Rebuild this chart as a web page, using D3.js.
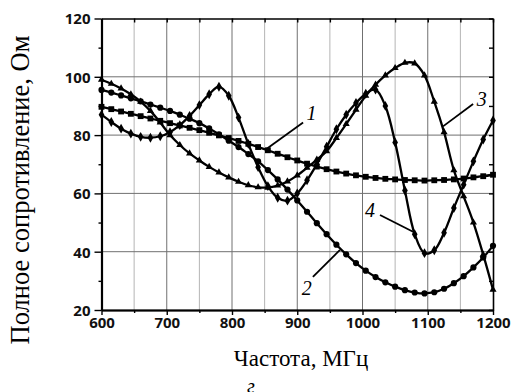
<!DOCTYPE html>
<html>
<head>
<meta charset="utf-8">
<script src="https://cdn.jsdelivr.net/npm/d3@7"></script>
<style>
  body { margin: 0; background: #fff; }
  svg { display: block; }
  .tick text { font-family: "Open Sans", sans-serif; font-weight: 700; font-size: 15px; fill: #111; }
</style>
</head>
<body>
<svg id="chart" width="516" height="392"></svg>
<script>
// Frequency samples, MHz
const freq = [600, 615, 630, 645, 660, 675, 690, 705, 720, 735, 750, 765, 780, 795, 810, 825, 840, 855, 870, 885,
              900, 915, 930, 945, 960, 975, 990, 1005, 1020, 1035, 1050, 1065, 1080, 1095, 1110, 1125, 1140, 1155, 1170, 1185, 1200];

// Impedance magnitude, Ohm
const curve1 = [89.7, 88.9, 88.1, 87.3, 86.5, 85.7, 84.9, 84.1, 83.3, 82.5, 81.7, 80.8, 79.9, 79.0, 78.0, 77.0, 75.9, 74.8, 73.6, 72.4,
                71.3, 70.2, 69.2, 68.3, 67.5, 66.8, 66.2, 65.7, 65.3, 65.0, 64.8, 64.6, 64.5, 64.4, 64.5, 64.6, 64.8, 65.1, 65.5, 65.9, 66.4];
const curve2 = [95.5, 94.6, 93.6, 92.6, 91.6, 90.5, 89.4, 88.3, 87.0, 85.6, 84.1, 82.3, 80.3, 78.1, 75.9, 73.5, 71.0, 68.0, 64.8, 61.3,
                57.6, 53.7, 49.8, 46.0, 42.4, 39.1, 36.1, 33.5, 31.3, 29.5, 28.0, 26.8, 26.0, 25.7, 26.1, 27.3, 29.2, 31.6, 34.6, 38.0, 42.0];
const curve3 = [99.0, 97.6, 96.0, 94.0, 91.5, 88.3, 84.3, 80.0, 76.6, 73.7, 71.3, 69.1, 67.2, 65.5, 64.0, 62.8, 62.1, 62.0, 62.7, 64.1,
                66.2, 68.8, 71.6, 74.5, 79.0, 83.8, 88.7, 93.5, 97.3, 100.5, 103.0, 104.8, 104.6, 100.5, 91.5, 81.0, 68.0, 59.0, 50.0, 39.0, 27.0];
const curve4 = [87.0, 84.5, 82.2, 80.5, 79.4, 79.1, 79.6, 81.0, 83.4, 86.6, 90.3, 94.0, 96.6, 93.5, 86.0, 77.0, 69.0, 62.5, 58.5, 57.5,
                60.0, 64.5, 70.0, 76.0, 82.0, 87.0, 91.0, 94.2, 95.6, 90.0, 77.5, 61.0, 46.0, 39.5, 40.5, 46.5, 55.0, 63.0, 71.0, 78.5, 85.0];

const xTicks = [600, 700, 800, 900, 1000, 1100, 1200];
const xMinor = [650, 750, 850, 950, 1050, 1150];
const yTicks = [20, 40, 60, 80, 100, 120];
const yMinor = [30, 50, 70, 90, 110];
const yAllTicks = [20, 30, 40, 50, 60, 70, 80, 90, 100, 110, 120];

const xTitle = "Частота, МГц";
const yTitle = "Полное сопротивление, Ом";
const panelTag = "г";

// Curve number callouts: label anchor and leader line, in data units
const callouts = [
  { text: "1", at: [922, 86.6], from: [909, 84.3], to: [850.6, 74.9] },
  { text: "2", at: [914.5, 26.6], from: [924, 31.4], to: [965.5, 40.6] },
  { text: "3", at: [1182.7, 91.6], from: [1169.5, 90.7], to: [1123.4, 83.0] },
  { text: "4", at: [1011.5, 53.6], from: [1026.8, 52.6], to: [1080.5, 46.5] }
];

const svg = d3.select("#chart");
const x = d3.scaleLinear().domain([600, 1200]).range([101.5, 493]);
const y = d3.scaleLinear().domain([20, 120]).range([310, 18.5]);

// Grid
const grid = svg.append("g");
grid.selectAll(".vmin").data(xMinor).join("line")
  .attr("x1", d => x(d)).attr("x2", d => x(d)).attr("y1", y(20)).attr("y2", y(120))
  .attr("stroke", "#b4b4b4").attr("stroke-width", 1);
grid.selectAll(".vmaj").data(xTicks.slice(1, -1)).join("line")
  .attr("x1", d => x(d)).attr("x2", d => x(d)).attr("y1", y(20)).attr("y2", y(120))
  .attr("stroke", "#707070").attr("stroke-width", 1);
grid.selectAll(".hmaj").data(yTicks.slice(1, -1)).join("line")
  .attr("x1", x(600)).attr("x2", x(1200)).attr("y1", d => y(d)).attr("y2", d => y(d))
  .attr("stroke", "#707070").attr("stroke-width", 1);

// Axes
const fmt = d3.format("d");
const bottom = svg.append("g").attr("transform", `translate(0,${y(20)})`)
  .call(d3.axisBottom(x).tickValues(xTicks).tickFormat(fmt).tickSize(5).tickPadding(2).tickSizeOuter(0));
svg.append("g").attr("transform", `translate(0,${y(20)})`)
  .call(d3.axisBottom(x).tickValues(xMinor).tickSize(3).tickFormat("").tickSizeOuter(0));
const left = svg.append("g").attr("transform", `translate(${x(600)},0)`)
  .call(d3.axisLeft(y).tickValues(yTicks).tickFormat(fmt).tickSize(7).tickPadding(4).tickSizeOuter(0));
svg.append("g").attr("transform", `translate(${x(600)},0)`)
  .call(d3.axisLeft(y).tickValues(yMinor).tickSize(3).tickFormat("").tickSizeOuter(0));
// Right and top frame with inward ticks
svg.append("g").attr("transform", `translate(${x(1200)},0)`)
  .call(d3.axisLeft(y).tickValues(yAllTicks).tickSize(4).tickFormat("").tickSizeOuter(0));
svg.append("g").attr("transform", `translate(0,${y(120)})`)
  .call(d3.axisBottom(x).tickValues(xTicks.concat(xMinor)).tickSize(4).tickFormat("").tickSizeOuter(0));

svg.selectAll(".domain").attr("stroke", "#000").attr("stroke-width", 1.6);
svg.selectAll(".tick line").attr("stroke", "#000").attr("stroke-width", 1.4);
bottom.select(".domain").attr("stroke-width", 2.2);
left.select(".domain").attr("stroke-width", 2.2);
bottom.selectAll(".tick text").attr("dy", "0.75em");
left.selectAll(".tick text").attr("dy", "0.36em");

// Curves
const series = [
  { values: curve1, symbol: d3.symbolSquare, size: 34 },
  { values: curve2, symbol: d3.symbolCircle, size: 30 },
  { values: curve3, symbol: d3.symbolTriangle, size: 22 },
  { values: curve4, symbol: d3.symbolDiamond, size: 28 }
];
const line = d3.line().x(d => x(d[0])).y(d => y(d[1])).curve(d3.curveCatmullRom.alpha(0.5));
const plot = svg.append("g");
series.forEach(s => {
  const pts = freq.map((f, i) => [f, s.values[i]]);
  plot.append("path").datum(pts).attr("d", line)
    .attr("fill", "none").attr("stroke", "#000").attr("stroke-width", 2.3);
  plot.append("g").selectAll("path").data(pts).join("path")
    .attr("transform", d => `translate(${x(d[0])},${y(d[1])})`)
    .attr("d", d3.symbol().type(s.symbol).size(s.size))
    .attr("fill", "#000");
});

// Callouts
const ann = svg.append("g");
callouts.forEach(c => {
  ann.append("line")
    .attr("x1", x(c.from[0])).attr("y1", y(c.from[1]))
    .attr("x2", x(c.to[0])).attr("y2", y(c.to[1]))
    .attr("stroke", "#000").attr("stroke-width", 1.8);
  ann.append("text").attr("x", x(c.at[0])).attr("y", y(c.at[1]))
    .attr("text-anchor", "middle").attr("dominant-baseline", "middle")
    .attr("font-family", "'Liberation Serif', serif").attr("font-style", "italic")
    .attr("font-size", 20).text(c.text);
});

// Titles
svg.append("text").attr("x", 301).attr("y", 366)
  .attr("text-anchor", "middle")
  .attr("font-family", "'Liberation Serif', serif").attr("font-size", 23)
  .text(xTitle);
svg.append("text").attr("transform", "translate(29,190) rotate(-90)")
  .attr("text-anchor", "middle")
  .attr("font-family", "'Liberation Serif', serif").attr("font-size", 26.5)
  .text(yTitle);
svg.append("text").attr("x", 251).attr("y", 393)
  .attr("text-anchor", "middle")
  .attr("font-family", "'Liberation Serif', serif").attr("font-style", "italic").attr("font-size", 20)
  .text(panelTag);
</script>
</body>
</html>
